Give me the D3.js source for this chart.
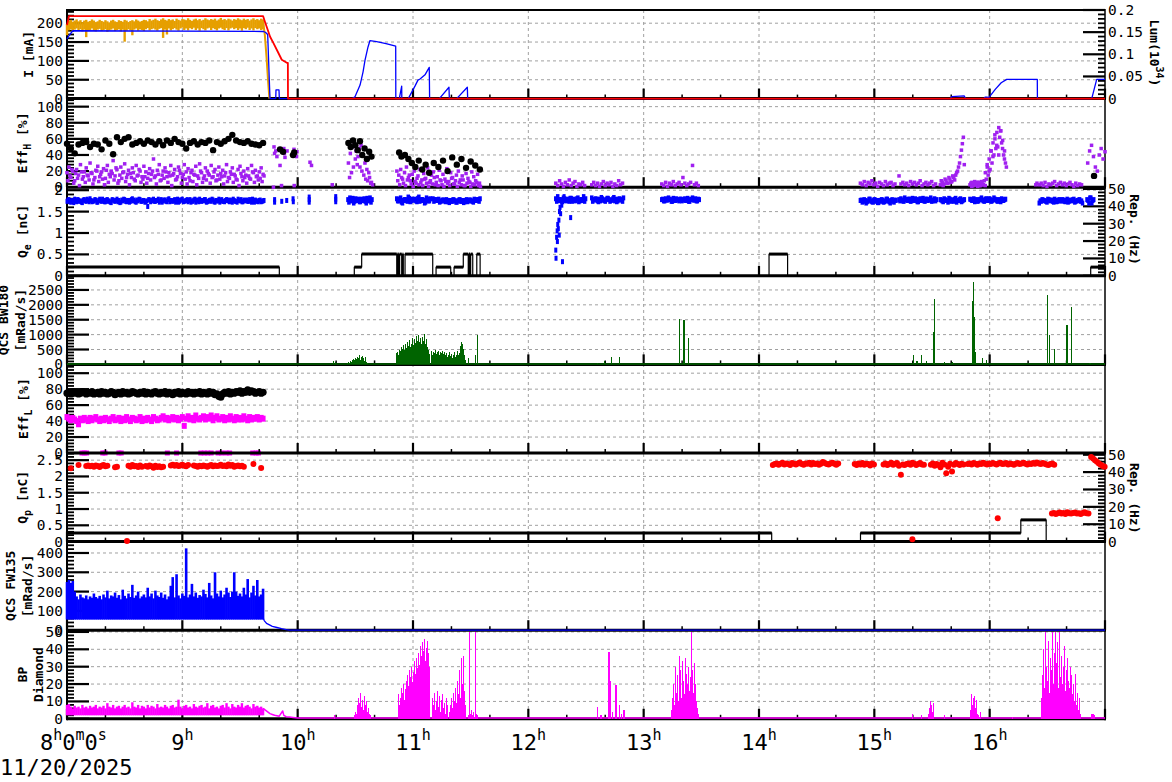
<!DOCTYPE html>
<html><head><meta charset="utf-8">
<script src="https://cdn.jsdelivr.net/npm/d3@7/dist/d3.min.js"></script>
<style>
html,body{margin:0;padding:0;background:#fff;}
svg{display:block;}
text{font-family:"DejaVu Sans Mono","Liberation Mono",monospace;fill:#000;}
</style></head><body>
<svg id="chart" width="1172" height="782"></svg>
<script>
// ================= DATA =================
const timeDomain = [8, 17];             // hours
const hourLabels = [9,10,11,12,13,14,15,16];
const dateLabel = "11/20/2025";
const EARLY_T0 = 8.0;                   // dense run, 1-minute samples

// axis domains / ticks
const iDomain=[0,235], iTicks=[0,50,100,150,200], iMinor=10;
const lumDomain=[0,0.2], lumTicks=[0,0.05,0.1,0.15,0.2], lumMinor=0.01;
const effHDomain=[0,110], effTicks=[0,20,40,60,80,100], effMinor=4;
const qeDomain=[0,2.07], qeTicks=[0,0.5,1,1.5,2], qMinor=0.1;
const repDomain=[0,51], repTicks=[0,10,20,30,40,50], repMinor=2;
const bwDomain=[0,2975], bwTicks=[0,500,1000,1500,2000,2500], bwMinor=100;
const effLDomain=[0,111];
const qpDomain=[0,2.72], qpTicks=[0,0.5,1,1.5,2,2.5];
const fwDomain=[0,459], fwTicks=[0,100,200,300,400], fwMinor=20;
const bpDomain=[0,51], bpTicks=[0,10,20,30,40,50], bpMinor=2;

// ---- panel 1: currents ----
const curRed = [[8.0,195],[8.017,219],[9.700,219],[9.717,203],[9.761,164],[9.789,148],[9.833,121],[9.862,103],[9.906,95],[9.915,95],[9.916,0],[17.0,0]];
const curBlue = [[8.0,158],[8.02,168],[8.05,180],[9.70,178],[9.72,176],[9.74,170],[9.76,0],[9.81,0],[9.812,23],[9.838,23],[9.841,0],
 [10.474,0],[10.497,5],[10.541,36],[10.567,71],[10.584,102],[10.610,137],[10.627,154],[10.685,151],[10.766,146],[10.850,139],[10.851,0],
 [10.881,0],[10.902,33],[10.903,0],[10.959,0],[11.017,33],[11.043,49],[11.061,52],[11.104,63],[11.141,83],[11.144,0],
 [11.228,0],[11.312,30],[11.315,0],[11.379,0],[11.471,30],[11.474,0],[15.66,0],[15.67,5],[15.78,7],[15.79,0],
 [15.95,0],[15.96,4],[15.98,4],[15.986,0],[16.05,25],[16.10,42],[16.148,51],[16.413,51],[16.414,0],[16.885,0],[16.928,51],[17.0,51]];
const orangeHi = [198,206,209,204,207,210,205,208,203,207, 209,204,206,210,207,203,205,209,206,204,
 208,205,202,207,209,205,203,208,206,204, 209,207,203,206,208,205,210,207,204,206,
 209,208,205,211,207,209,212,208,206,210, 213,209,207,211,208,210,206,212,209,207,
 211,210,208,213,209,206,210,212,208,211, 207,209,213,210,208,211,209,212,207,210,
 214,209,211,208,212,210,207,211,209,213, 210,208,212,209,211,207,210,213,209,211, 208,212,210];
const orangeLo = [168,181,184,179,183,186,180,184,178,183, 163,179,182,186,180,178,183,185,179,182,
 184,177,181,183,186,179,182,184,178,183, 151,180,184,181,168,183,186,180,184,182,
 179,184,187,181,184,186,183,180,185,187, 161,183,170,186,181,184,187,183,180,186,
 188,182,186,181,187,184,188,182,186,180, 187,184,181,186,188,182,187,184,181,186,
 188,184,182,187,181,186,188,184,187,182, 186,180,187,184,188,182,186,181,187,184, 186,182,184];
const orangeTail = [[9.70,205],[9.715,170],[9.73,110],[9.745,40],[9.755,0]];

// ---- panel 2: Eff_H ----
const effHBlack2min = [54,48,42,53,55,56,50,54,53,47,58,54,41,62,56,60,62,53,55,57,54,58,56,53,57,52,58,55,60,56,54,48,55,57,53,56,55,58,46,56,54,57,60,65,58,56,55,57,54,53,52,55];
const effHPurpleA = [18,25,12,20,8,22,15,28,10,19, 24,14,30,17,9,21,26,13,19,23, 11,27,16,20,33,14,22,8,25,18,
 29,12,21,17,24,10,27,15,20,13, 26,19,11,23,16,35,14,21,28,9, 20,24,13,18,27,15,22,10,25,17,
 12,28,19,23,8,21,16,26,14,29, 18,11,24,20,15,27,13,22,9,25, 17,21,14,28,12,19,24,16,10,22,
 26,13,20,15,23,11,27,18,21,14, 19,24,16];
const effHPurpleB = [8,14,22,5,17,11,2,19,13,6, 15,9,18,4,12,20,7,16,10,3, 21,6,13,17,9,24,5,15,11,19,
 7,16,3,12,18,8,14,22,6,10, 13,5,17,9,20,12,4,16,8,15, 11,19,6,14,2,17,9,13,21,5,
 16,10,4,12,18,7,15,3,11,20, 6,14,9,17,5,12,19,8,15,10, 13,4,18,7,11,16,6,14,9,2,
 17,8,12,5,14,10,19,6,13,9, 11,7,14];
const effHPurpleSparse = [[9.79,0],[9.795,50],[9.80,42],[9.81,45],[9.82,38],[9.847,27],[9.86,2],[9.88,48],[9.885,42],[9.89,37],
 [9.908,45],[9.968,47],[9.97,40],[9.97,2],[9.99,38],[9.994,44],[10.107,31],[10.12,27],[10.30,3],[16.40,3],[16.41,5]];
const effHPurpleLate = [
 [10.44,[30,42,50,55,45,38,25,20,15,10,8,12,6]],
 [10.45,[12,18,25,35,28,48,52,40,30,22,18,5,3]],
 [10.86,[20,15,22,10,18,25,12,8,16,20,5,14,22,9,17,11,24,6,15,19,3,13,21,8,16,10,23,7,18,12,4,15,20,9,14,2,17,11,6,19,13,8,16,5]],
 [10.868,[8,3,12,5,2,9,15,4,1,7,11,3,6,2,10,5,1,8,4,12,6,2,9,3,1,7,5,2,11,4,8,1,6,3,9,2,5,7,1,4,3,6,2,1]],
 [12.238,[5,2,8,4,1,6,3,9,2,5,7,1,4,3,6,2]],
 [12.55,[3,6,2,5,1,4,7,2,5,3,6,1,4,2,8,3,5]],
 [13.157,[4,2,6,1,5,3,7,2,4,6,3,12,5,2,4,6,27,3,5,2]],
 [14.879,[5,3,7,2,6,4,8,3,5,1,6,4,2,7,3,5,6,2,4]],
 [15.214,[14,4,6,3,5,2,7,4,6,3,5,8,2,4,6,3,5,7,2,4]],
 [15.572,[3,6,4,8,5,10,7,12,15,20,30,46,62]],
 [15.58,[8,2,10,5,12,6,14,9,18,25,38,54,28]],
 [15.829,[3,6,2,5,1,4,7,3,18,25,35,45,55,60,68,74,70,58,45]],
 [15.837,[5,2,7,3,6,2,4,8,10,15,22,30,40,48,50,62,55,40,30]],
 [15.845,[1,4,3,6,2,5,3,2,28,20,45,38,65,52,40,70,48,35,25]],
 [16.43,[3,5,2,6,1,4,3,5,7,2,4,6,3,5,2,4,6,3,1,5,2,4,3]],
 [16.85,[30,45,52,38,25,20,40,48,35,44]]
];
const effHBlackLate = [[9.847,47],[9.873,44],[9.96,40],[9.97,43],[10.44,55],[10.46,50],[10.48,58],[10.50,52],[10.52,46],[10.54,57],
 [10.56,40],[10.58,48],[10.60,35],[10.62,44],[10.64,38],[10.88,43],[10.90,38],[10.93,40],[10.96,35],[10.99,30],[11.02,25],[11.05,33],
 [11.08,22],[11.11,28],[11.14,18],[11.18,30],[11.22,25],[11.26,33],[11.30,20],[11.34,37],[11.38,28],[11.42,35],[11.46,24],[11.50,32],
 [11.54,27],[11.58,22],[16.905,14]];

// ---- panel 3: Q_e and e- rep. rate ----
const qeA = [1.74,1.78,1.72,1.76,1.79,1.73,1.77,1.75,1.71,1.78, 1.74,1.76,1.80,1.73,1.75,1.77,1.72,1.79,1.74,1.76,
 1.73,1.78,1.75,1.71,1.77,1.74,1.79,1.76,1.72,1.75, 1.78,1.73,1.76,1.74,1.80,1.77,1.72,1.75,1.78,1.74,
 1.76,1.73,1.62,1.77,1.75,1.79,1.74,1.76,1.72,1.78, 1.75,1.77,1.73,1.80,1.76,1.74,1.78,1.75,1.72,1.77,
 1.79,1.74,1.76,1.73,1.78,1.75,1.77,1.72,1.76,1.79, 1.74,1.75,1.78,1.73,1.76,1.74,1.77,1.72,1.75,1.79,
 1.76,1.74,1.73,1.78,1.75,1.77,1.72,1.76,1.74,1.79, 1.75,1.73,1.77,1.76,1.74,1.78,1.72,1.75,1.77,1.74, 1.76,1.73,1.75];
const qeB = [1.77,1.73,1.76,1.71,1.75,1.78,1.74,1.72,1.77,1.75, 1.79,1.73,1.76,1.74,1.78,1.72,1.76,1.75,1.79,1.73,
 1.77,1.74,1.72,1.78,1.75,1.76,1.73,1.71,1.77,1.79, 1.74,1.76,1.72,1.78,1.75,1.73,1.77,1.79,1.74,1.76,
 1.72,1.75,1.78,1.73,1.77,1.74,1.76,1.79,1.75,1.72, 1.77,1.74,1.78,1.73,1.75,1.76,1.72,1.79,1.74,1.77,
 1.73,1.75,1.78,1.76,1.72,1.74,1.79,1.77,1.73,1.75, 1.76,1.78,1.72,1.74,1.77,1.79,1.73,1.76,1.75,1.72,
 1.78,1.74,1.76,1.77,1.73,1.75,1.79,1.74,1.72,1.76, 1.78,1.73,1.75,1.77,1.74,1.76,1.79,1.72,1.75,1.73, 1.77,1.74,1.76];
const qeSparse = [[9.80,1.78],[9.80,1.72],[9.862,1.74],[9.905,1.76],[9.96,1.80],[9.962,1.73],[10.10,1.84],[10.10,1.78],[10.10,1.72],
 [10.33,1.85],[10.33,1.79],[10.33,1.73],[12.238,0.6],[12.240,0.41],[12.245,0.9],[12.25,1.05],[12.252,0.8],[12.255,1.2],[12.26,1.1],
 [12.265,1.3],[12.268,0.95],[12.27,1.5],[12.275,1.6],[12.28,1.45],[12.285,1.75],[12.29,1.65],[12.296,0.33],[12.31,1.85],[12.367,1.36]];
const qeLate = [
 [10.436,[1.78,1.82,1.75,1.70,1.80,1.76,1.73,1.79,1.77,1.74,1.81,1.76,1.72]],
 [10.859,[1.80,1.75,1.82,1.70,1.78,1.76,1.84,1.73,1.79,1.77,1.75,1.81,1.74,1.78,1.76,1.72,1.79,1.75]],
 [11.173,[1.80,1.78,1.76,1.79,1.74,1.77,1.75,1.78,1.73,1.76,1.74,1.77,1.72,1.75,1.78,1.74,1.71,1.76,1.73,1.77,1.75,1.72,1.76,1.78,1.74]],
 [12.238,[1.80,1.85,1.78,1.75,1.82,1.76,1.79,1.74,1.81,1.77,1.75,1.80,1.73,1.78,1.76,1.74]],
 [12.55,[1.82,1.78,1.80,1.75,1.79,1.83,1.77,1.74,1.81,1.78,1.76,1.80,1.75,1.73,1.79,1.77,1.74]],
 [13.157,[1.78,1.75,1.80,1.77,1.79,1.74,1.81,1.76,1.78,1.75,1.79,1.77,1.80,1.76,1.74,1.78,1.82,1.77,1.75,1.79]],
 [14.879,[1.76,1.72,1.78,1.70,1.75,1.79,1.73,1.77,1.74,1.71,1.76,1.78,1.72,1.75,1.79,1.73,1.76,1.74,1.77]],
 [15.214,[1.78,1.80,1.75,1.82,1.77,1.79,1.74,1.81,1.76,1.78,1.73,1.80,1.77,1.75,1.79,1.76,1.78,1.74,1.77,1.75]],
 [15.572,[1.78,1.75,1.80,1.76,1.72,1.79,1.77,1.74,1.81,1.76,1.78,1.73,1.77]],
 [15.829,[1.79,1.76,1.80,1.77,1.74,1.78,1.82,1.75,1.79,1.76,1.80,1.74,1.77,1.79,1.75,1.78,1.73,1.76,1.78]],
 [16.43,[1.70,1.74,1.77,1.75,1.72,1.78,1.76,1.74,1.79,1.73,1.77,1.75,1.78,1.74,1.76,1.72,1.77,1.75,1.79,1.74,1.76,1.78,1.75]],
 [16.844,[1.78,1.70,1.82,1.76]]
];
const repE = [[8.0,5],[9.841,0],[10.491,5],[10.555,12.5],[10.859,0],[10.866,12.5],[10.876,0],[10.884,12.5],[10.902,0],[10.910,12.5],
 [10.916,0],[10.931,12.5],[11.171,0],[11.200,5],[11.327,0],[11.356,5],[11.436,12.5],[11.479,0],[11.485,12.5],[11.494,0],[11.500,12.5],
 [11.518,0],[11.553,12.5],[11.582,0],[14.087,12.5],[14.248,0],[16.876,5],[17.0,5]];

// ---- panel 4: QCS BW180 ----
const bwA = [40,80,60,120,90,150,110,180,140,220,170,260,200,300,150,250,280,200,120,260,90,40];  // from 10.43 h, 0.5 min
const bwB = [380,420,300,500,450,600,520,650,480,700,560,750,620,820,580,700,900,650,850,720,950,600,800,1000,750,880,680,920,800,1010,700,860,600,500,350]; // from 10.86 h
const bwC = [450,300,420,380,480,350,400,460,300,420,380,440,260,350,420,300,380,250,320,400,280,350,220,300,400,250,330,450,300,380,620,750,700,520,300,150]; // from 11.16 h
const bwSpikes = [[10.31,130],[10.33,90],[11.48,200],[11.54,300],[11.56,1000],[12.60,60],[12.66,100],[12.72,258],[12.79,250],
 [13.314,1520],[13.35,1500],[13.386,870],[15.34,300],[15.37,120],[15.41,300],[15.45,100],[15.51,1090],[15.52,2200],[15.61,80],
 [15.65,60],[15.68,80],[15.848,2130],[15.857,2756],[15.862,1700],[15.866,1580],[15.88,400],[15.937,200],[15.97,150],
 [16.50,2330],[16.516,1000],[16.56,530],[16.67,1330],[16.71,1930],[16.87,60]];

// ---- panel 5: Eff_L ----
const effLBlack = [75,76,74,77,75,76,74,75,77,76, 74,76,75,77,74,75,76,74,77,75, 76,74,75,77,76,73,75,76,74,77,
 75,76,74,75,77,76,75,74,76,75, 77,74,76,75,74,76,77,75,74,76, 75,77,74,76,75,73,76,75,77,74,
 76,75,74,77,75,76,74,76,75,77, 74,76,75,74,77,75,76,73,74,71, 70,74,76,75,77,74,76,75,77,76,
 78,75,77,76,79,76,78,77,75,76, 77,75,76];
const effLMag = [45,43,41,44,42,40,36,43,41,44, 42,40,44,41,43,45,42,40,43,41, 44,42,40,43,45,41,42,44,40,43,
 41,45,42,40,44,43,41,42,45,40, 43,41,44,42,40,45,43,41,42,44, 46,42,44,41,43,45,42,44,41,43,
 45,34,43,46,42,44,41,47,43,42, 44,46,42,45,43,47,41,44,46,42, 43,45,41,44,42,46,43,41,45,42,
 44,42,46,43,41,45,42,44,43,45, 42,44,43];
const effLMagZero = [8.13,8.15,8.17,8.31,8.33,8.45,8.47,8.87,8.95,9.16,9.19,9.22,9.25,9.31,9.34,9.38,9.41,9.61,9.64,9.66];

// ---- panel 6: Q_p and p rep. rate ----
const qpEarly = [null,null,2.25,null,null,null,2.35,null,null,null, 2.32,2.34,2.31,2.33,2.30,2.34,2.32,2.29,2.33,2.35,
 2.31,2.33,null,null,null,2.28,2.30,null,null,null, null,null,2.33,2.30,2.35,2.31,2.32,2.29,2.34,2.30,
 null,2.32,2.30,2.34,2.31,2.27,2.33,2.29,2.31,2.28, 2.30,null,null,null,2.34,2.36,2.33,2.35,2.32,2.34,
 2.36,2.33,2.31,2.35,null,null,2.34,2.32,2.30,2.33, 2.31,2.34,2.32,2.30,2.33,2.35,2.31,2.34,2.32,2.33,
 2.36,2.32,2.34,2.31,2.37,2.33,2.35,2.30,2.32,2.34, 2.31,2.33,2.30,null,null,null,null,2.38,null,null, null,2.26,null];
const qpLate = [
 [14.12,[2.35,2.38,2.40,2.36,2.39,2.42,2.37,2.40,2.38,2.35,2.41,2.39,2.37,2.40,2.43,2.38,2.36,2.40,2.39,2.42,2.37,2.41,2.38,2.40,2.36,2.39,2.44,2.41,2.38,2.37,2.40,2.42,2.39,2.36,2.40]],
 [14.83,[2.38,2.35,2.40,2.37,2.41,2.36,2.39,2.38,2.34,2.40,2.37]],
 [15.08,[2.37,2.40,2.35,2.38,2.42,2.36,2.39,2.41,2.33,2.05,2.37,2.35,2.38,2.40,2.36,2.42,2.39,2.35,2.38,2.41,2.37,2.36]],
 [15.49,[2.36,2.40,2.33,2.38,2.35,2.28,2.42,2.37,2.10,2.30,2.39,2.15,2.36,2.41,2.38,2.35,2.39,2.37]],
 [15.81,[2.38,2.40,2.37,2.41,2.39,2.36,2.40,2.38,2.42,2.39,2.37,2.40,2.38,2.41,2.39,2.37,2.40,2.42,2.38,2.39,2.41,2.37,2.40,2.38,2.36,2.39,2.41,2.38,2.40,2.42,2.39,2.37,2.40,2.38,2.41,2.39,2.43,2.40,2.38,2.41,2.39,2.37,2.35,2.38,2.40,2.36]],
 [16.88,[2.60,2.55,2.50,2.45,2.40,2.36,2.32,2.30]],
 [16.54,[0.86,0.88,0.85,0.87,0.89,0.86,0.88,0.85,0.90,0.87,0.86,0.88,0.89,0.86,0.87,0.85,0.88,0.90,0.87,0.86]]
];
const qpSingles = [[8.52,0.02],[15.33,0.07],[16.07,0.72]];
const repP = [[8.0,5],[14.11,0],[14.88,5],[16.27,12.5],[16.49,0],[17.0,0]];

// ---- panel 7: QCS FW135 ----
const fw135Hi = [250,260,245,255,200,175,160,185,170,165, 180,160,175,168,190,172,165,178,160,185,
 170,205,165,180,175,195,168,182,160,210, 178,165,190,172,235,168,180,200,165,175,
 185,170,220,175,190,165,205,180,172,195, 168,185,160,175,230,275,170,290,180,165,
 190,178,424,170,185,240,175,195,168,182, 175,210,188,170,245,180,165,300,190,175,
 205,170,185,220,195,172,200,300,200,178, 190,175,220,185,265,170,195,230,180,260, 175,185,215];
const fw135Base = 55;
const fw135Tail = [[9.70,65],[9.71,50],[9.73,35],[9.76,26],[9.78,20],[9.82,14],[9.86,8],[9.90,3],[9.93,0.5],[17.0,0.5]];

// ---- panel 8: BP Diamond ----
const bpHi = [8,8.5,7,6,7.5,6.5,7,6,8,6.5, 7,6,7.5,6.5,7,8,6,7,6.5,7.5, 6,9,7,6.5,8,6,7,7.5,6,7,
 8,6.5,7,6,9.5,7,6.5,8,6,7.5, 7,6,8,6.5,7.5,7,6,8.5,6.5,7, 6.5,8,7,6,7.5,8,6.5,7,11,7,
 6,7.5,8,6.5,7,6,8.5,7,6.5,7.5, 8,6.5,7,9,6,7.5,8,6.5,7,6, 7.5,8,6.5,9,7,6,8.5,7,6.5,8,
 7,9,6.5,7.5,8,7,6,8.5,7,7.5, 6.5,7,6];
const bpBase = 2;
const bpTail = [[9.70,6],[9.72,5],[9.74,4],[9.76,3],[9.78,2.5],[9.80,2],[9.82,1.8],[9.84,1.5],[9.87,4.5],[9.88,2],[9.90,1.2],[9.93,1],[9.96,0.8],[10.0,0.5],[17.0,0.4]];
const bpLate = [
 [10.49,[2,4,3,8,6,12,9,15,7,11,5,13,8,10,4,6,3,2]],
 [10.87,[10,14,8,12,18,15,20,11,17,22,25,19,28,24,30,21,27,33,26,35,29,38,31,42,36,28,44,39,46,33,41,45,38,30]],
 [11.17,[12,8,15,5,10,16,7,13,4,11,14,6,9,3,12,8]],
 [11.32,[4,8,12,6,15,10,18,9,22,14,28,12,35,20,36,16,8]],
 [11.48,[2,50,3,5,2,4,1,50,3,2]],
 [13.24,[5,12,20,8,30,15,25,10,36,18,28,12,33,22,14,35,26,20,30,16,24,50,28,15,32,20,10,6,3]],
 [15.47,[3,6,10,8,4,9]],
 [15.83,[5,10,14,8,12,13,6,11,3,2,1,4]],
 [16.45,[12,25,40,18,50,30,22,45,15,35,28,50,20,38,50,26,32,44,18,50,24,36,20,30,42,16,28,35,22,18,30,25,14,20,10,26,8,15,5,12,3,2]],
 [16.88,[2.5,3,2.5,2]]
];
const bpSpikes = [[10.32,2],[12.60,7],[12.63,2],[12.70,38.6],[12.71,22],[12.73,4],[12.76,19.5],[12.765,18.5],[12.79,8],[12.81,3],[12.83,5],[15.33,3],[15.41,2],[15.61,2],[16.20,1]];

// ================= LAYOUT =================
const L=67, R=1105, TOP=10, PH=88.6, NP=8;
const x = d3.scaleLinear().domain(timeDomain).range([L,R]);
const svg = d3.select('#chart');
const gGrid=svg.append('g'), gData0=svg.append('g'), gAxis=svg.append('g'), gData=svg.append('g'), gText=svg.append('g');
const yS = (i,dom)=>d3.scaleLinear().domain(dom).range([TOP+(i+1)*PH, TOP+i*PH]);

const COL = {orange:'#e69f00', red:'#ff0000', blue:'#0000ff', purple:'#a020f0', black:'#000000', green:'#006400', magenta:'#ff00ff', grid:'#a0a0a0'};

const panels = [
 {dom:iDomain, ticks:iTicks, minor:iMinor, right:{dom:lumDomain,ticks:lumTicks,minor:lumMinor}},
 {dom:effHDomain, ticks:effTicks, minor:effMinor},
 {dom:qeDomain, ticks:qeTicks, minor:qMinor, right:{dom:repDomain,ticks:repTicks,minor:repMinor}},
 {dom:bwDomain, ticks:bwTicks, minor:bwMinor},
 {dom:effLDomain, ticks:effTicks, minor:effMinor},
 {dom:qpDomain, ticks:qpTicks, minor:qMinor, right:{dom:repDomain,ticks:repTicks,minor:repMinor}},
 {dom:fwDomain, ticks:fwTicks, minor:fwMinor},
 {dom:bpDomain, ticks:bpTicks, minor:bpMinor}
];
const ys = panels.map((p,i)=>yS(i,p.dom));
const yr = panels.map((p,i)=>p.right? yS(i,p.right.dom):null);
const BOTTOM = TOP+NP*PH;

function minorVals(dom, step, majors){
  const out=[]; for(let v=dom[0]; v<=dom[1]+1e-9; v+=step){ const r=Math.round(v/step)*step; if(!majors.some(m=>Math.abs(m-r)<step*0.1)) out.push(r);} return out;
}
function hl(g,x1,x2,y,w,col,dash){ const l=g.append('line').attr('x1',x1).attr('x2',x2).attr('y1',y).attr('y2',y).attr('stroke',col).attr('stroke-width',w); if(dash) l.attr('stroke-dasharray',dash); return l;}
function vl(g,xx,y1,y2,w,col,dash){ const l=g.append('line').attr('x1',xx).attr('x2',xx).attr('y1',y1).attr('y2',y2).attr('stroke',col).attr('stroke-width',w); if(dash) l.attr('stroke-dasharray',dash); return l;}

// vertical hour grid
hourLabels.forEach(h=> vl(gGrid, x(h), TOP, BOTTOM, 1, COL.grid, '3,3'));

panels.forEach((p,i)=>{
  const y0=TOP+i*PH, y1=y0+PH, s=ys[i];
  p.ticks.forEach(v=>{ if(v>p.dom[0] && s(v)>y0+1) hl(gGrid, L, R, s(v), 1, COL.grid, '3,3'); });
  p.ticks.forEach(v=>{ hl(gAxis, L, L+22, s(v), 2.2, '#000'); });
  minorVals(p.dom, p.minor, p.ticks).forEach(v=>{ if(s(v)>=y0) hl(gAxis, L, L+7, s(v), 1.8, '#000'); });
  p.ticks.forEach(v=>{
    gText.append('text').attr('x',63).attr('y',s(v)).attr('text-anchor','end').attr('dominant-baseline','central')
      .attr('font-size',14.5).text(String(v));
  });
  if(p.right){
    const r=yr[i];
    p.right.ticks.forEach(v=>{ hl(gAxis, R-22, R, r(v), 2.2, '#000'); });
    minorVals(p.right.dom, p.right.minor, p.right.ticks).forEach(v=>{ if(r(v)>=y0) hl(gAxis, R-7, R, r(v), 1.8, '#000'); });
    p.right.ticks.forEach(v=>{
      gText.append('text').attr('x',1108).attr('y',r(v)).attr('text-anchor','start').attr('dominant-baseline','central')
        .attr('font-size',14.5).text(String(v));
    });
  }
  d3.range(0, 28).forEach(k=>{
    const t=8+k/3, major=(k%3===0);
    vl(gAxis, x(t), y1, y1-(major?10:4), major?2.2:1.5, '#000');
  });
  hl(gAxis, L, R+1, y1, 3, '#000');
});
hl(gAxis, L, R, TOP, 2, '#000');
vl(gAxis, L, TOP-1, BOTTOM+1.5, 2, '#000');
vl(gAxis, R, TOP-1, BOTTOM+1.5, 1.5, '#000');

// ================= MARK HELPERS =================
const pts = (vals, t0, stepMin)=>vals.map((v,k)=>[t0+k*stepMin/60, v]).filter(d=>d[1]!==null);
function path(g, data, s, col, w, curve){
  g.append('path').datum(data).attr('fill','none').attr('stroke',col).attr('stroke-width',w).attr('stroke-linejoin','round')
   .attr('d', d3.line().curve(curve||d3.curveLinear).x(d=>x(d[0])).y(d=>s(d[1])));
}
function stems(g, data, s, base, col, w, crisp){
  const sel=g.selectAll(null).data(data).join('line').attr('x1',d=>x(d[0])).attr('x2',d=>x(d[0]))
   .attr('y1',d=>s(d.length>2?d[2]:base)).attr('y2',d=>s(d[1])).attr('stroke',col).attr('stroke-width',w);
  if(crisp) sel.attr('shape-rendering','crispEdges');
}
function squares(g, data, s, col, w, h){
  g.selectAll(null).data(data).join('rect').attr('x',d=>x(d[0])-w/2).attr('y',d=>s(d[1])-h/2).attr('width',w).attr('height',h).attr('fill',col);
}
function circles(g, data, s, col, r){
  g.selectAll(null).data(data).join('circle').attr('cx',d=>x(d[0])).attr('cy',d=>s(d[1])).attr('r',r).attr('fill',col);
}
const segs = (list, stepMin)=>list.flatMap(([t0,v])=>pts(v,t0,stepMin));

// ================= DATA MARKS =================
{ // panel 1
  const s=ys[0];
  const hi=pts(orangeHi,EARLY_T0,1), lo=pts(orangeLo,EARLY_T0,1);
  stems(gData, hi.map((d,k)=>[d[0], d[1], lo[k][1]]), s, 0, COL.orange, 2.4);
  path(gData, orangeTail, s, COL.orange, 2);
  path(gData, curBlue, s, COL.blue, 1.3);
  path(gData, curRed, s, COL.red, 1.8);
}
{ // panel 2
  const s=ys[1];
  squares(gData, pts(effHPurpleA,EARLY_T0,1), s, COL.purple, 3.5, 3.5);
  squares(gData, pts(effHPurpleB,EARLY_T0+0.5/60,1), s, COL.purple, 3.5, 3.5);
  squares(gData, effHPurpleSparse, s, COL.purple, 3.5, 3.5);
  squares(gData, segs(effHPurpleLate,1), s, COL.purple, 3.5, 3.5);
  circles(gData, pts(effHBlack2min,EARLY_T0,2), s, COL.black, 3.2);
  circles(gData, effHBlackLate, s, COL.black, 3.2);
}
{ // panel 3
  const s=ys[2], r=yr[2];
  squares(gData, pts(qeA,EARLY_T0,1), s, COL.blue, 3, 5);
  squares(gData, pts(qeB,EARLY_T0+0.5/60,1), s, COL.blue, 3, 5);
  squares(gData, qeSparse, s, COL.blue, 3, 5);
  squares(gData, segs(qeLate,1), s, COL.blue, 3.5, 5);
  squares(gData, segs(qeLate.map(([t,v])=>[t+0.5/60, v.slice().reverse()]),1), s, COL.blue, 3.5, 5);
  path(gData, repE, r, '#000', 1.2, d3.curveStepAfter);
  repE.forEach((d,k)=>{ if(k<repE.length-1 && d[1]>0) hl(gData, x(d[0]), x(repE[k+1][0]), r(d[1]), 3, '#000'); });
}
{ // panel 4
  const s=ys[3];
  hl(gData, L, R, s(15), 1.5, COL.green);
  stems(gData, pts(bwA,10.43,0.5), s, 0, COL.green, 1, true);
  stems(gData, pts(bwB,10.86,0.5), s, 0, COL.green, 1, true);
  stems(gData, pts(bwC,11.16,0.5), s, 0, COL.green, 1, true);
  stems(gData, bwSpikes, s, 0, COL.green, 1.2, true);
}
{ // panel 5
  const s=ys[4];
  squares(gData0, effLMagZero.map(t=>[t,0]), s, COL.magenta, 5, 5);
  squares(gData, pts(effLMag,EARLY_T0,1), s, COL.magenta, 5, 6);
  circles(gData, pts(effLBlack,EARLY_T0,1), s, COL.black, 3.6);
}
{ // panel 6
  const s=ys[5], r=yr[5];
  path(gData, repP, r, '#000', 1.2, d3.curveStepAfter);
  repP.forEach((d,k)=>{ if(k<repP.length-1 && d[1]>0) hl(gData, x(d[0]), x(repP[k+1][0]), r(d[1]), 3, '#000'); });
  circles(gData, pts(qpEarly,EARLY_T0,1), s, COL.red, 3);
  circles(gData, segs(qpLate,1), s, COL.red, 3);
  circles(gData, qpSingles, s, COL.red, 3);
}
{ // panel 7
  const s=ys[6];
  stems(gData, pts(fw135Hi,EARLY_T0,1), s, fw135Base, COL.blue, 2.6);
  path(gData, fw135Tail, s, COL.blue, 1.3);
}
{ // panel 8
  const s=ys[7];
  stems(gData, pts(bpHi,EARLY_T0,1), s, bpBase, COL.magenta, 2.4);
  path(gData, bpTail, s, COL.magenta, 1.5);
  stems(gData, segs(bpLate,0.5), s, 0, COL.magenta, 1, true);
  stems(gData, bpSpikes, s, 0, COL.magenta, 1.2, true);
}

// ================= TITLES =================
function vtitle(cx, cy, angle, parts){
  const t=gText.append('text').attr('transform',`translate(${cx},${cy}) rotate(${angle})`)
    .attr('x',0).attr('y',4.6).attr('text-anchor','middle').attr('font-size',13).attr('font-weight','bold');
  let pend=0;
  parts.forEach(([txt,kind])=>{
    const sp=t.append('tspan');
    if(kind==='sub'){ sp.attr('dy',pend+4).attr('font-size',10); pend=-4; }
    else if(kind==='sup'){ sp.attr('dy',pend-6).attr('font-size',10); pend=6; }
    else { if(pend) sp.attr('dy',pend); pend=0; }
    sp.text(txt);
  });
}
const mid = i=>TOP+(i+0.5)*PH;
vtitle(28, mid(0), -90, [['I [mA]']]);
vtitle(22, mid(1), -90, [['Eff'],['H','sub'],[' [%]']]);
vtitle(22, mid(2), -90, [['Q'],['e','sub'],[' [nC]']]);
vtitle(3, mid(3), -90, [['QCS BW180']]);
vtitle(20, mid(3), -90, [['[mRad/s]']]);
vtitle(23, mid(4), -90, [['Eff'],['L','sub'],[' [%]']]);
vtitle(22, mid(5), -90, [['Q'],['p','sub'],[' [nC]']]);
vtitle(10, mid(6), -90, [['QCS FW135']]);
vtitle(27, mid(6), -90, [['[mRad/s]']]);
vtitle(22, mid(7), -90, [['BP']]);
vtitle(38, mid(7), -90, [['Diamond']]);
vtitle(1155, 53, 90, [['Lum(10'],['34','sup'],[')']]);
vtitle(1135, mid(2)-2, 90, [['Rep. (Hz)']]);
vtitle(1135, mid(5)+1, 90, [['Rep. (Hz)']]);

// ================= TIME AXIS LABELS =================
function timeLabel(xx, anchor, parts){
  const t=gText.append('text').attr('x',xx).attr('y',750).attr('text-anchor',anchor).attr('font-size',22);
  let pend=0;
  parts.forEach(([txt,sup])=>{
    const sp=t.append('tspan');
    if(sup){ sp.attr('dy',pend-10).attr('font-size',15); pend=10; }
    else { if(pend) sp.attr('dy',pend); pend=0; }
    sp.text(txt);
  });
}
timeLabel(40, 'start', [['8'],['h',1],['0'],['m',1],['0'],['s',1]]);
hourLabels.forEach(h=> timeLabel(x(h), 'middle', [[String(h)],['h',1]]));
gText.append('text').attr('x',0).attr('y',775).attr('font-size',22).text(dateLabel);
</script>
</body></html>
